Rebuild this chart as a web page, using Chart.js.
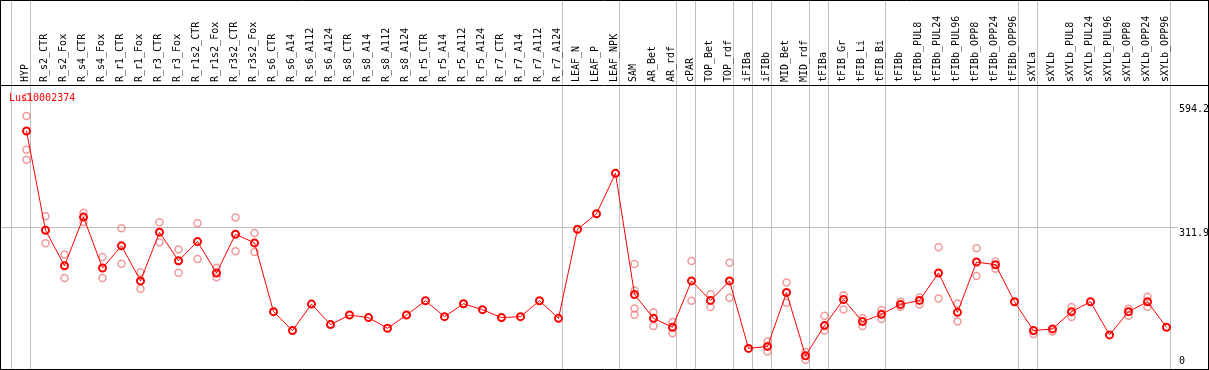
<!DOCTYPE html>
<html>
<head>
<meta charset="utf-8">
<script src="https://cdn.jsdelivr.net/npm/chart.js@4.4.1/dist/chart.umd.min.js"></script>
<style>
  html, body { margin: 0; padding: 0; background: #fff; }
  #wrap { width: 1209px; height: 370px; }
</style>
</head>
<body>
<div id="wrap"><canvas id="chart" width="1209" height="370"></canvas></div>
<script>
// gene shown in the top-left corner
const geneName = "Lus10002374";

// one column per sample
const categories = [
  "HYP",
  "R_s2_CTR", "R_s2_Fox", "R_s4_CTR", "R_s4_Fox", "R_r1_CTR", "R_r1_Fox", "R_r3_CTR", "R_r3_Fox",
  "R_r1s2_CTR", "R_r1s2_Fox", "R_r3s2_CTR", "R_r3s2_Fox",
  "R_s6_CTR", "R_s6_A14", "R_s6_A112", "R_s6_A124", "R_s8_CTR", "R_s8_A14", "R_s8_A112", "R_s8_A124",
  "R_r5_CTR", "R_r5_A14", "R_r5_A112", "R_r5_A124", "R_r7_CTR", "R_r7_A14", "R_r7_A112", "R_r7_A124",
  "LEAF_N", "LEAF_P", "LEAF_NPK",
  "SAM", "AR_Bet", "AR_rdf", "cPAR", "TOP_Bet", "TOP_rdf", "iFIBa", "iFIBb", "MID_Bet", "MID_rdf",
  "tFIBa", "tFIB_Gr", "tFIB_Li", "tFIB_Bi",
  "tFIBb", "tFIBb_PUL8", "tFIBb_PUL24", "tFIBb_PUL96", "tFIBb_OPP8", "tFIBb_OPP24", "tFIBb_OPP96",
  "sXYLa", "sXYLb", "sXYLb_PUL8", "sXYLb_PUL24", "sXYLb_PUL96", "sXYLb_OPP8", "sXYLb_OPP24", "sXYLb_OPP96"
];

// mean expression (red line)
const means = [
  531.6, 305.1, 224.2, 335.2, 219.0, 269.5, 189.6, 300.6, 235.6, 279.3, 207.7, 296.0, 276.3,
  119.4, 76.3, 136.6, 89.9, 111.7, 105.8, 81.5, 111.7, 144.3, 108.0, 137.5, 123.9, 105.8, 108.0, 144.3, 104.2,
  307.4, 342.7, 434.9,
  158.6, 104.2, 83.8, 189.6, 145.0, 189.6, 35.6, 40.1, 163.1, 18.8, 87.7, 147.2, 96.7, 113.3,
  135.9, 145.0, 207.7, 117.8, 232.6, 226.5, 142.0,
  76.3, 80.0, 119.4, 142.0, 66.4, 119.4, 142.0, 83.8
];

// single replicates (pale circles), same order as categories
const replicates = [
  [608.6, 565.6, 488.6, 465.9],
  [336.8, 275.7], [249.8, 196.4], [345.0, 323.9], [243.9, 196.4], [309.6, 228.8], [209.1, 171.5],
  [323.2, 277.9], [261.2, 208.4], [321.0, 239.4], [219.7, 197.7], [334.5, 257.5], [299.0, 255.3],
  [], [], [], [], [], [], [], [], [], [], [], [], [], [], [], [],
  [], [], [],
  [228.1, 167.6, 126.8, 112.6], [117.8, 86.7], [95.8, 70.2], [234.9, 144.3], [159.2, 129.8], [231.0, 151.1],
  [], [51.4, 28.8], [185.7, 139.8], [27.2, 9.7], [110.3, 76.3], [157.0, 124.6], [104.2, 86.7], [123.0, 102.6],
  [142.0, 130.7], [151.8, 135.9], [266.6, 149.5], [138.2, 96.7], [264.3, 200.9], [234.0, 217.4], [],
  [68.6], [74.1], [129.8, 107.1], [], [], [126.2, 110.3], [153.3, 130.7], []
];

// right-hand labels and the one horizontal grid line
const yTicks = [0, 311.9, 594.2];
const yGrid = [311.9];
const yMax = 636.5;

// index of the last sample in each group (grey separators)
const groupEnds = [-1, 0, 28, 31, 34, 35, 37, 38, 39, 41, 42, 45, 52, 53, 60];

const FONT = '10px "DejaVu Sans Mono", "Liberation Mono", monospace';

const repPoints = [];
replicates.forEach((vals, i) => vals.forEach(v => repPoints.push({ x: categories[i], y: v })));

const decor = {
  id: 'decor',
  beforeDatasetsDraw(chart) {
    const ctx = chart.ctx, xs = chart.scales.x, ys = chart.scales.y;
    const H = chart.height;
    const x0 = xs.getPixelForValue(0);
    const step = xs.getPixelForValue(1) - x0;
    ctx.save();
    ctx.strokeStyle = '#c0c0c0';
    ctx.lineWidth = 1;
    ctx.beginPath();
    yGrid.forEach(v => {
      const py = Math.floor(ys.getPixelForValue(v)) + 0.5;
      ctx.moveTo(0, py); ctx.lineTo(1178, py);
    });
    groupEnds.forEach(i => {
      const px = Math.floor(x0 + step * i + 4) + 0.5;
      ctx.moveTo(px, 0); ctx.lineTo(px, H - 1);
    });
    ctx.stroke();
    ctx.restore();
  },
  afterDraw(chart) {
    const ctx = chart.ctx, xs = chart.scales.x, ys = chart.scales.y;
    const W = chart.width, H = chart.height;
    ctx.save();
    ctx.font = FONT;
    ctx.fillStyle = '#000';
    ctx.textAlign = 'left';
    ctx.textBaseline = 'alphabetic';
    // sample names, rotated
    categories.forEach((c, i) => {
      const px = xs.getPixelForValue(i);
      ctx.save();
      ctx.translate(px + 1.5, 82);
      ctx.rotate(-Math.PI / 2);
      ctx.fillText(c, 0, 0);
      ctx.restore();
    });
    // value labels on the right
    yTicks.forEach(v => {
      const py = Math.min(ys.getPixelForValue(v) + 8.3, chart.chartArea.bottom - 0.5);
      ctx.fillText(String(v), 1179, py);
    });
    // gene name
    ctx.fillStyle = '#ff0000';
    ctx.fillText(geneName, 9, 100.5);
    // frame
    ctx.strokeStyle = '#000';
    ctx.lineWidth = 1;
    ctx.beginPath();
    ctx.moveTo(0, 0.5); ctx.lineTo(W, 0.5);
    ctx.moveTo(0, 85.5); ctx.lineTo(W, 85.5);
    ctx.moveTo(0, H - 0.5); ctx.lineTo(W, H - 0.5);
    ctx.moveTo(0.5, 0); ctx.lineTo(0.5, H);
    ctx.moveTo(W - 0.5, 0); ctx.lineTo(W - 0.5, H);
    ctx.stroke();
    ctx.restore();
  }
};

new Chart(document.getElementById('chart'), {
  type: 'line',
  data: {
    labels: categories,
    datasets: [
      {
        label: 'mean',
        data: means,
        borderColor: '#ff0000',
        borderWidth: 1,
        pointRadius: 3.5,
        pointBorderWidth: 2,
        pointBorderColor: '#ff0000',
        pointBackgroundColor: 'rgba(255,255,255,0)',
        tension: 0,
        clip: false
      },
      {
        label: 'replicates',
        data: repPoints,
        showLine: false,
        pointRadius: 3.5,
        pointBorderWidth: 1.5,
        pointBorderColor: 'rgba(235,120,120,0.75)',
        pointBackgroundColor: 'rgba(255,255,255,0)',
        clip: false
      }
    ]
  },
  options: {
    responsive: false,
    animation: false,
    events: [],
    layout: { padding: { left: 26.5, right: 42.5, top: 85, bottom: 4 } },
    scales: {
      x: { type: 'category', offset: false, display: false },
      y: { min: 0, max: yMax, display: false }
    },
    plugins: { legend: { display: false }, tooltip: { enabled: false } }
  },
  plugins: [decor]
});
</script>
</body>
</html>
